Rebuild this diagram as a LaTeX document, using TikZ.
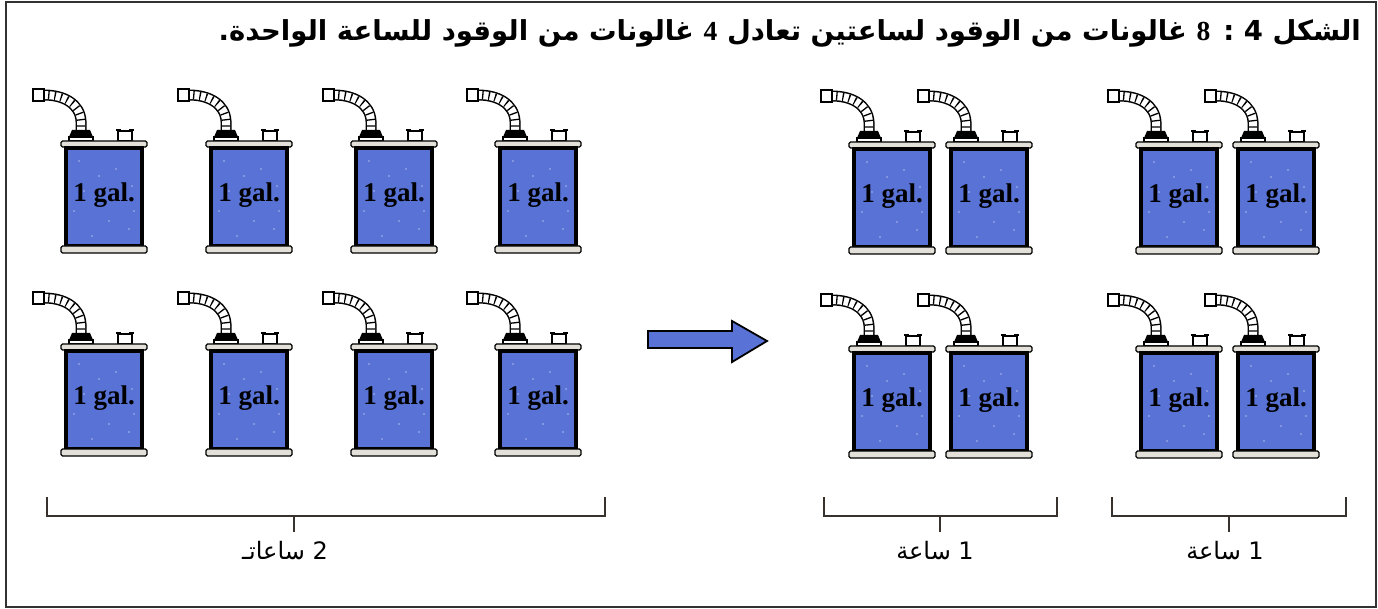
\documentclass[tikz,border=0pt]{standalone}
\usepackage{fontspec}
\setmainfont{Liberation Serif}
\newfontfamily\arabicfont[Script=Arabic]{DejaVu Sans}
\newfontfamily\numserif{Liberation Serif}
\TeXXeTstate=1
\definecolor{canblue}{RGB}{88,114,214}
\definecolor{rimgray}{RGB}{226,224,216}
\definecolor{bracketcol}{RGB}{55,50,45}
\definecolor{framecol}{RGB}{50,50,50}

\tikzset{
  rimbar/.style={fill=rimgray, draw=black, line width=1.1pt, rounded corners=1.5pt},
  bracketline/.style={draw=bracketcol, line width=1.6pt},
  hourlabel/.style={font=\arabicfont\fontsize{24}{26}\selectfont, inner sep=0pt},
  gallabel/.style={font=\bfseries\fontsize{27}{28}\selectfont, inner sep=0pt},
  spoutpath/.style={line cap=butt},
  gascan/.pic={
    % spout tube: dark outline, white core, cross ribs
    \draw[spoutpath, line width=11pt, black]
      (-23,-8) -- (-23,-20) .. controls (-24,-37) and (-40,-46) .. (-60,-46);
    \draw[spoutpath, line width=8pt, white]
      (-23,-8) -- (-23,-20) .. controls (-24,-37) and (-40,-46) .. (-60,-46);
    \draw[spoutpath, line width=8pt, black, dash pattern=on 1.3pt off 5pt]
      (-23,-8) -- (-23,-20) .. controls (-24,-37) and (-40,-46) .. (-60,-46);
    % nozzle tip
    \draw[fill=white, line width=1.4pt] (-71,-52) rectangle (-60,-40);
    % collar
    \fill[black] (-32,-11) -- (-14,-11) -- (-11,-4) -- (-35,-4) -- cycle;
    \draw[fill=white, line width=1.1pt] (-35,-4) rectangle (-11,0);
    % filler cap
    \draw[fill=white, line width=2.6pt] (14,-10) rectangle (28,0);
    \draw[line width=2pt] (12,-11) -- (17,-11) (25,-11) -- (30,-11);
    % top rim
    \draw[rimbar] (-43,0) rectangle (43,6);
    % body
    \draw[fill=canblue, line width=4pt] (-38,7) rectangle (38,105);
    \foreach \px/\py in {-25/20, 12/28, 28/45, -30/70, 5/80, 25/88, -12/95, -5/35, 30/70, -20/50}
      \fill[white, opacity=0.35] (\px,\py) circle (1.1);
    % bottom rim
    \draw[rimbar] (-43,105) rectangle (43,112);
    \node[gallabel] (-lbl) at (0,54) {1 gal.};
  }
}

\begin{document}
\begin{tikzpicture}[x=1pt, y=-1pt]
  \useasboundingbox (0,0) rectangle (1378,609);
  % outer frame
  \draw[framecol, line width=2pt] (6,2) rectangle (1376,607);

  % caption
  \node[anchor=east, inner sep=0pt, font=\arabicfont\bfseries\fontsize{27.5}{30}\selectfont] (title) at (1361,33)
    {\beginR الشكل 4 : {\numserif\bfseries 8} غالونات من الوقود لساعتين تعادل {\numserif\bfseries 4} غالونات من الوقود للساعة الواحدة.\endR};

  % eight cans used over two hours
  \foreach \cx [count=\i] in {104,249,394,538} {
    \pic (lt\i) at (\cx,141) {gascan};
    \pic (lb\i) at (\cx,344) {gascan};
  }

  % four cans per hour, two hours
  \foreach \cx [count=\i] in {892,989,1179,1276} {
    \pic (rt\i) at (\cx,142) {gascan};
    \pic (rb\i) at (\cx,346) {gascan};
  }

  % arrow between the groups
  \draw[fill=canblue, line width=1.8pt, line join=miter]
    (648,331) -- (732,331) -- (732,321) -- (767,341) -- (732,362) -- (732,348) -- (648,348) -- cycle;

  % brackets
  \coordinate (b1l) at (47,497);  \coordinate (b1r) at (605,497);  \coordinate (b1m) at (294,516);
  \coordinate (b2l) at (824,497); \coordinate (b2r) at (1057,497); \coordinate (b2m) at (940,516);
  \coordinate (b3l) at (1112,497);\coordinate (b3r) at (1346,497); \coordinate (b3m) at (1229,516);
  \foreach \b in {b1,b2,b3} {
    \draw[bracketline] (\b l) -- (\b l |- \b m) -- (\b r |- \b m) -- (\b r);
    \draw[bracketline] (\b m) -- ++(0,16);
  }

  \node[hourlabel] (h2) at (285,551) {\beginR 2 ساعاتـ\endR};
  \node[hourlabel] (h1a) at (935,551) {\beginR 1 ساعة\endR};
  \node[hourlabel] (h1b) at (1225,551) {\beginR 1 ساعة\endR};
\end{tikzpicture}
\end{document}
